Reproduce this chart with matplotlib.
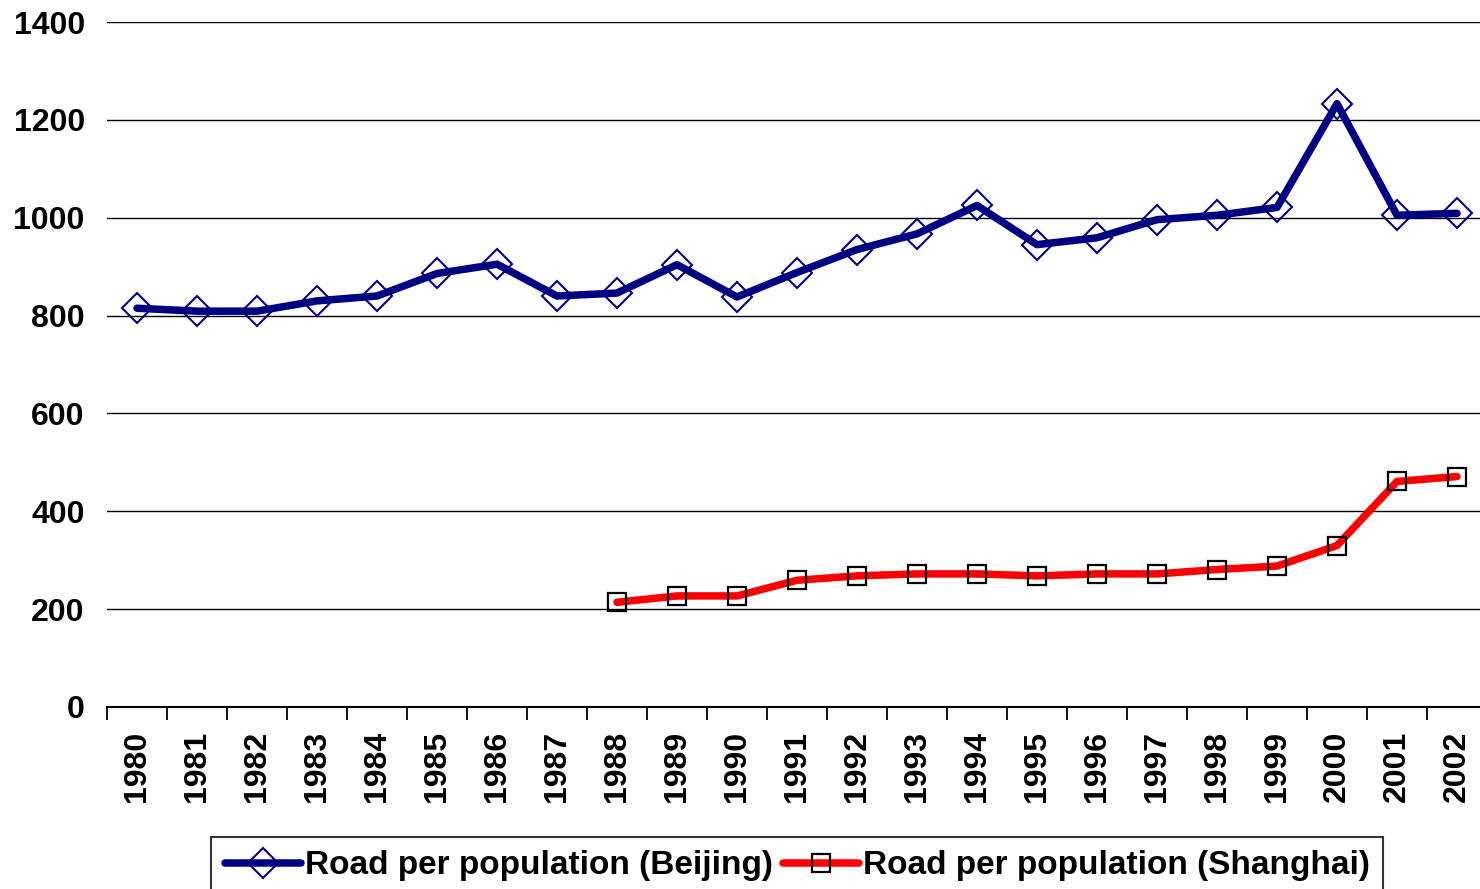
import matplotlib
matplotlib.use("Agg")
import matplotlib.pyplot as plt
import numpy as np

years = [str(y) for y in range(1980, 2003)]
beijing = [815, 809, 809, 830, 840, 886, 905, 840, 846, 904, 838, 888,
           935, 967, 1025, 945, 959, 996, 1005, 1021, 1233, 1005, 1009]
shanghai_years = [str(y) for y in range(1988, 2003)]
shanghai = [214, 227, 227, 259, 268, 272, 272, 268, 272, 272, 281, 288,
            330, 461, 471]
yticks = [0, 200, 400, 600, 800, 1000, 1200, 1400]

plt.rcParams['font.family'] = ['Liberation Sans', 'DejaVu Sans']
plt.rcParams['font.weight'] = 'bold'

fig = plt.figure(figsize=(14.8, 8.89), dpi=100)
ax = fig.add_axes([107/1480, 1 - 707/889, (1487 - 107)/1480, (707 - 22)/889])

x_b = np.arange(len(years))
x_s = np.array([years.index(y) for y in shanghai_years])

ax.plot(x_b, beijing, color='#000080', lw=5.4, marker='D', markersize=15,
        markerfacecolor='none', markeredgecolor='#000080', markeredgewidth=1.5,
        label='Road per population (Beijing)', solid_capstyle='round', zorder=3,
        clip_on=False)
ax.plot(x_s, shanghai, color='#FF0000', lw=5.4, marker='s', markersize=13.5,
        markerfacecolor='none', markeredgecolor='black', markeredgewidth=1.6,
        label='Road per population (Shanghai)', solid_capstyle='round', zorder=3,
        clip_on=False)

ax.set_xlim(-0.5, len(years) - 0.5)
ax.set_ylim(0, 1400)
ax.set_yticks(yticks)
ax.set_yticklabels([str(v) for v in yticks], fontsize=23, fontweight='bold')
ax.tick_params(axis='y', length=0, pad=16)
ax.yaxis.grid(True, color='black', lw=1.0)
ax.set_axisbelow(True)

ax.set_xticks(np.arange(len(years) + 1) - 0.5)
ax.set_xticklabels([])
ax.set_xticks(x_b, minor=True)
ax.set_xticklabels(years, minor=True, rotation=90, fontsize=23, fontweight='bold')
ax.tick_params(axis='x', which='major', length=9, width=1.3, direction='out', color='black')
ax.tick_params(axis='x', which='minor', length=0, pad=17)

for s in ['left', 'right', 'top']:
    ax.spines[s].set_visible(False)
ax.spines['bottom'].set_linewidth(1.5)
ax.spines['bottom'].set_color('black')

leg = fig.legend(loc='upper center', bbox_to_anchor=(797/1480, 1 - 837/889),
                 ncol=2, frameon=True, fancybox=False, borderaxespad=0,
                 edgecolor='black', handlelength=2.3, handletextpad=0.1,
                 columnspacing=0.3, borderpad=0.4, numpoints=1,
                 prop={'weight': 'bold', 'size': 24})
leg.get_frame().set_linewidth(1.5)

fig.savefig('out.png', dpi=100)
